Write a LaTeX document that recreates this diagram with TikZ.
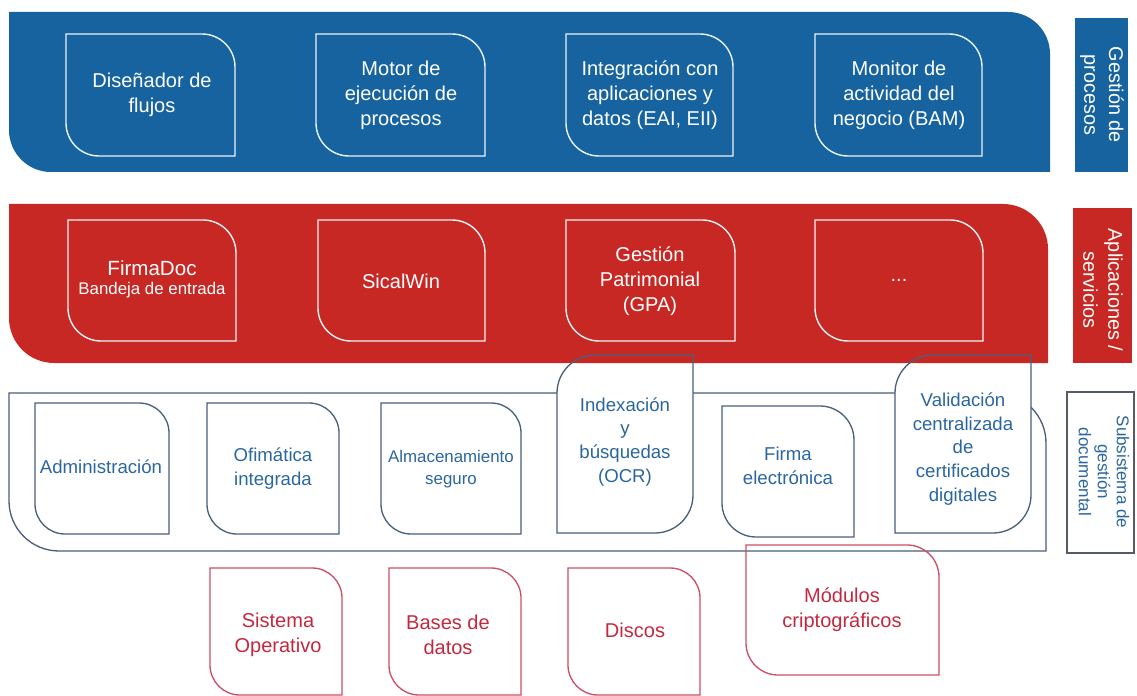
\documentclass[tikz,border=0pt]{standalone}
\usepackage{fontspec}
\setmainfont{Liberation Sans}
\definecolor{blueband}{RGB}{22,99,160}
\definecolor{redband}{RGB}{200,40,36}
\definecolor{subline}{RGB}{72,96,120}
\definecolor{subtext}{RGB}{42,102,160}
\definecolor{botline}{RGB}{204,78,100}
\definecolor{bottext}{RGB}{196,40,62}
\definecolor{lablines}{RGB}{85,92,100}
% leaf: rounded top-right and bottom-left
\newcommand\leaf[6]{\path[#1] (#2,#3) -- ({#4-#6},#3) .. controls ({#4-0.448*#6},#3) and (#4,{#3+0.448*#6}) .. (#4,{#3+#6}) -- (#4,#5) -- ({#2+#6},#5) .. controls ({#2+0.448*#6},#5) and (#2,{#5-0.448*#6}) .. (#2,{#5-#6}) -- cycle;}
% mirrored leaf: rounded top-left and bottom-right
\newcommand\leafm[6]{\path[#1] ({#2+#6},#3) -- (#4,#3) -- (#4,{#5-#6}) .. controls (#4,{#5-0.448*#6}) and ({#4-0.448*#6},#5) .. ({#4-#6},#5) -- (#2,#5) -- (#2,{#3+#6}) .. controls (#2,{#3+0.448*#6}) and ({#2+0.448*#6},#3) .. ({#2+#6},#3) -- cycle;}
\tikzset{
  wbox/.style={draw=white!92!blueband, line width=0.8pt},
  sbox/.style={draw=subline, line width=0.75pt},
  rbox/.style={draw=botline, line width=0.75pt},
  btxt/.style={text=white, align=center, font=\fontsize{11.4}{14.2}\selectfont},
  stxt/.style={text=subtext, align=center, font=\fontsize{10.6}{13.6}\selectfont},
  rtxt/.style={text=bottext, align=center, font=\fontsize{11.4}{14.2}\selectfont},
  labtxt/.style={text=white, align=center, rotate=-90, font=\fontsize{11.3}{14.2}\selectfont},
}
\begin{document}
\begin{tikzpicture}[x=0.02cm, y=-0.02cm]
\useasboundingbox (0,0) rectangle (1137,696);
\begin{scope}
\clip (0,0) rectangle (1137,696);
% ---------- Gestion de procesos ----------
\leaf{fill=blueband}{9}{12}{1050}{172}{42}
\leaf{wbox}{66}{34}{235}{156}{33}
\leaf{wbox}{316}{34}{485}{156}{33}
\leaf{wbox}{566}{34}{733}{156}{33}
\leaf{wbox}{815}{34}{982}{156}{33}
\node[btxt] (disenador) at (152,95) {Diseñador de\\flujos};
\node[btxt] (motor) at (401,95) {Motor de\\ejecución de\\procesos};
\node[btxt] (integracion) at (650,95) {Integración con\\aplicaciones y\\datos (EAI, EII)};
\node[btxt] (monitor) at (899,95) {Monitor de\\actividad del\\negocio (BAM)};
\path[fill=blueband] (1075,18) rectangle (1128,172);
\node[labtxt] (labgp) at (1102,95) {Gestión de\\procesos};
% ---------- subsystem outer + white fills under red band ----------
\leaf{sbox}{9}{393}{1046}{551}{50}
\leafm{fill=white}{557}{355}{693}{533}{38}
\leafm{fill=white}{895}{355}{1031}{533}{38}
% ---------- Aplicaciones / servicios ----------
\leaf{fill=redband}{9}{204}{1048}{363}{45}
\leaf{wbox}{68}{220}{236}{341}{33}
\leaf{wbox}{318}{220}{485}{341}{33}
\leaf{wbox}{566}{220}{735}{341}{33}
\leaf{wbox}{815}{220}{983}{341}{33}
\node[btxt, font=\fontsize{11.7}{14.2}\selectfont] (firmadoc) at (152,268) {FirmaDoc};
\node[btxt, font=\fontsize{9.6}{12}\selectfont] (bandeja) at (152,290) {Bandeja de entrada};
\node[btxt] (sicalwin) at (401,281) {SicalWin};
\node[btxt] (gpa) at (650,281) {Gestión\\Patrimonial\\(GPA)};
\node[btxt] (dots) at (899,280) {...};
\path[fill=redband] (1073,208) rectangle (1132,363);
\node[labtxt] (labas) at (1103,290) {Aplicaciones /\\servicios};
% ---------- subsystem boxes ----------
\leaf{sbox}{35}{403}{169}{534}{30}
\leaf{sbox}{207}{403}{339}{534}{30}
\leaf{sbox}{381}{403}{521}{534}{30}
\leafm{sbox}{557}{355}{693}{533}{38}
\leaf{sbox}{722}{406}{854}{537}{34}
\leafm{sbox}{895}{355}{1031}{533}{38}
\node[stxt] (admin) at (101,467) {Administración};
\node[stxt] (ofim) at (273,469) {Ofimática\\integrada};
\node[stxt, font=\fontsize{9.6}{12.6}\selectfont] (almac) at (451,469) {Almacenamiento\\seguro};
\node[stxt] (index) at (625,442) {Indexación\\y\\búsquedas\\(OCR)};
\node[stxt] (firma) at (788,466) {Firma\\electrónica};
\node[stxt] (valid) at (963,449) {Validación\\centralizada\\de\\certificados\\digitales};
\path[draw=lablines, line width=0.9pt, fill=white] (1067,392) rectangle (1134,553);
\node[labtxt, text=subtext, font=\fontsize{9.7}{10.8}\selectfont] (labsg) at (1104,472) {Subsistema de\\gestión\\documental};
% ---------- bottom layer ----------
\leaf{rbox}{210}{568}{342}{695}{30}
\leaf{rbox}{389}{568}{521}{695}{30}
\leaf{rbox}{568}{568}{700}{695}{30}
\leaf{rbox}{746}{545}{939}{675}{32}
\node[rtxt] (so) at (278,635) {Sistema\\Operativo};
\node[rtxt] (bd) at (448,635) {Bases de\\datos};
\node[rtxt] (discos) at (635,630) {Discos};
\node[rtxt] (modulos) at (842,610) {Módulos\\criptográficos};
\end{scope}
\end{tikzpicture}
\end{document}
